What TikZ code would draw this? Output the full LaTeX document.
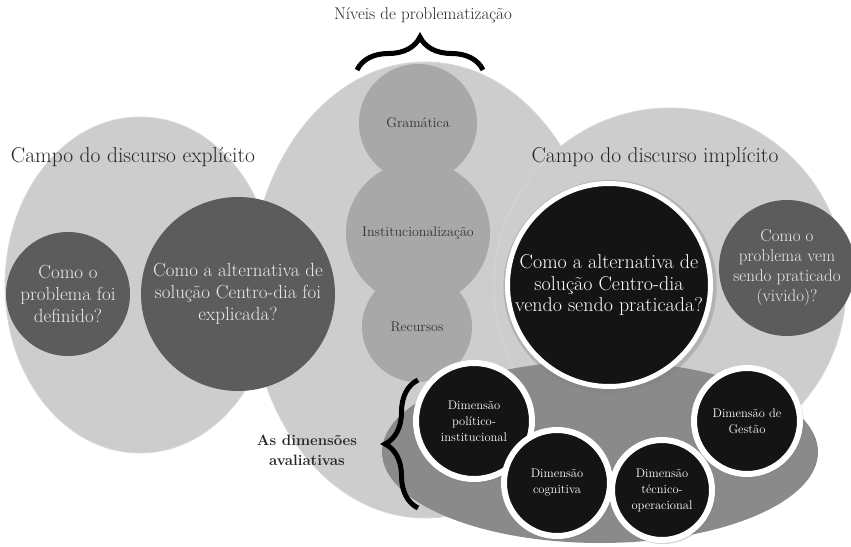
\documentclass[tikz,border=0pt]{standalone}
\usepackage{tikz}
\usetikzlibrary{decorations.pathreplacing,shadows}
\usepackage{xcolor}

\definecolor{fieldgray}{HTML}{CDCDCD}
\definecolor{levelgray}{HTML}{A8A8A8}
\definecolor{questgray}{HTML}{5C5C5C}
\definecolor{dimgray}{HTML}{8A8A8A}
\definecolor{nearblack}{HTML}{141414}

\begin{document}
\begin{tikzpicture}[x=1pt,y=-1pt]
    \useasboundingbox (0,0) rectangle (851,546);

    % the three fields
    \begin{scope}[fill=fieldgray,draw=white!18!fieldgray,line width=0.8]
      \filldraw (140,285) ellipse [x radius=135, y radius=168];
      \filldraw (425,290) ellipse [x radius=175, y radius=228];
      \filldraw (670,286) ellipse [x radius=176, y radius=178];
    \end{scope}

    \begin{scope}[every node/.style={circle,fill=levelgray,inner sep=0pt,
        text=black!80,font=\fontsize{14}{16}\selectfont}]
      \node[minimum size=118] (1) at (418,123) {Gramática};
      \node[minimum size=144] (2) at (418,233) {Institucionalização};
      \node[minimum size=110] (3) at (417,327) {Recursos};
    \end{scope}

    \begin{scope}[every node/.style={circle,fill=questgray,inner sep=0pt,
        text=white!92!black,align=center,font=\fontsize{19}{22}\selectfont}]
      \node[minimum size=124] (4) at (68,294) {Como o\\problema foi\\definido?};
      \node[minimum size=194] (5) at (238,294) {Como a alternativa de\\solução Centro-dia foi\\explicada?};
      \node[minimum size=136,font=\fontsize{17}{20}\selectfont] (6) at (787,268) {Como o\\problema vem\\sendo praticado\\(vivido)?};
    \end{scope}

    \fill[dimgray] (600,452) ellipse [x radius=218, y radius=91];

    \begin{scope}[every node/.style={circle,fill=nearblack,draw=white,inner sep=0pt,
        text=white,align=center,
        drop shadow={shadow xshift=1pt,shadow yshift=-1.5pt,shadow scale=1.05,opacity=0.35}}]
      \node[minimum size=203,line width=5,font=\fontsize{20}{21.5}\selectfont] (7) at (609,285)
        {Como a alternativa de\\solução Centro-dia\\vendo sendo praticada?};
      \begin{scope}[every node/.append style={line width=6,font=\fontsize{12.5}{16}\selectfont}]
        \node[minimum size=116] (8) at (474,421) {Dimensão\\político-\\institucional};
        \node[minimum size=106] (9) at (557,483) {Dimensão\\cognitiva};
        \node[minimum size=100] (10) at (662,490) {Dimensão\\técnico-\\operacional};
        \node[minimum size=106] (11) at (747,421) {Dimensão de\\Gestão};
      \end{scope}
    \end{scope}

    % braces
    \begin{scope}[line width=5,decoration={brace,amplitude=33}]
      \draw[decorate] (357,70) -- (483,70);
      \draw[decorate] (418,508) -- (418,380);
    \end{scope}

    \begin{scope}[every node/.style={text=black!85,align=center}]
      \node[font=\fontsize{17}{19}\selectfont] (12) at (423,15) {Níveis de problematização};
      \node[font=\fontsize{21.5}{24}\selectfont] (13) at (133,157) {Campo do discurso explícito};
      \node[font=\fontsize{21.5}{24}\selectfont] (14) at (655,157) {Campo do discurso implícito};
      \node[font=\bfseries\fontsize{15}{20}\selectfont] (15) at (307,450) {As dimensões\\avaliativas};
    \end{scope}
\end{tikzpicture}
\end{document}
